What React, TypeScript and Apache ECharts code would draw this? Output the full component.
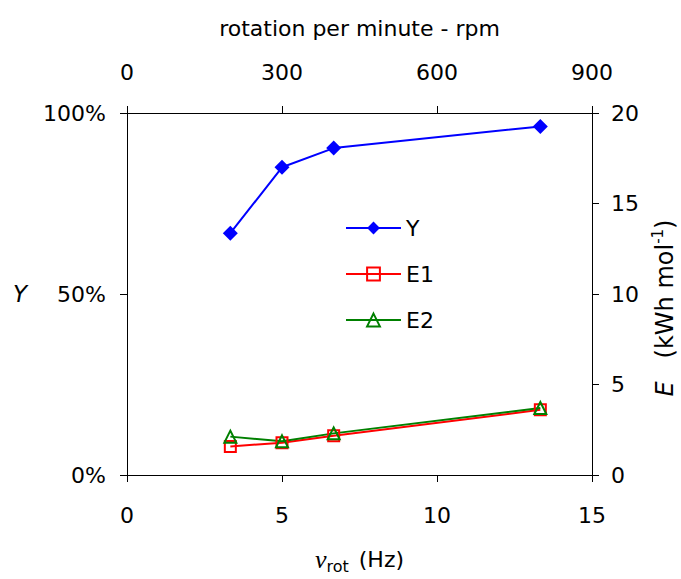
import React, { useEffect, useRef } from "react";
import * as echarts from "echarts";

const rpm = [200, 300, 400, 800];
const yieldY = [0.668, 0.85, 0.903, 0.963];
const energyE1 = [1.58, 1.78, 2.17, 3.6];
const energyE2 = [2.12, 1.86, 2.3, 3.7];
const hzTicks = { min: 0, max: 15, interval: 5 };
const rpmTicks = { min: 0, max: 900, interval: 300 };
const yTicks = { min: 0, max: 1, interval: 0.5 };
const eTicks = { min: 0, max: 20, interval: 5 };

const FONT = "DejaVu Sans, Liberation Sans, Arial, sans-serif";
const FS = 22;

export default function App() {
  const ref = useRef<HTMLDivElement>(null);
  useEffect(() => {
    if (!ref.current) return;
    const chart = echarts.init(ref.current, null, { renderer: "svg" });
    const axisCommon = {
      axisLine: { show: true, onZero: false, lineStyle: { color: "#000", width: 1 } },
      axisTick: { show: true, inside: false, length: 7, lineStyle: { color: "#000", width: 1 } },
      splitLine: { show: false },
    };
    const pair = (xs: number[], ys: number[]) => xs.map((x, i) => [x, ys[i]]);
    chart.setOption({
      animation: false,
      backgroundColor: "#fff",
      textStyle: { fontFamily: FONT },
      grid: { left: 127, top: 113, width: 465, height: 362, containLabel: false, outerBoundsMode: "none" },
      legend: {
        orient: "vertical",
        left: 340,
        top: 212,
        itemWidth: 55,
        itemHeight: 16,
        itemGap: 24,
        textStyle: { fontSize: FS, color: "#000", fontFamily: FONT },
        data: ["Y", "E1", "E2"],
      },
      xAxis: [
        {
          type: "value",
          position: "bottom",
          ...hzTicks,
          ...axisCommon,
          axisLabel: { fontSize: FS, color: "#000", margin: 29, fontFamily: FONT },
          name: "{nu|ν}{sub|rot} (Hz)",
          nameLocation: "middle",
          nameGap: 69,
          nameTextStyle: {
            fontSize: FS,
            color: "#000",
            fontFamily: FONT,
            rich: {
              nu: { fontSize: 26, fontStyle: "italic", fontFamily: "Liberation Serif, serif", color: "#000", verticalAlign: "middle", lineHeight: 30 },
              sub: { fontSize: 16, fontFamily: FONT, color: "#000", verticalAlign: "bottom", padding: [0, 3, 0, 0] },
            },
          },
        },
        {
          type: "value",
          position: "top",
          ...rpmTicks,
          ...axisCommon,
          axisLabel: { fontSize: FS, color: "#000", margin: 30, fontFamily: FONT },
          name: "rotation per minute - rpm",
          nameLocation: "middle",
          nameGap: 74,
          nameTextStyle: { fontSize: FS, color: "#000", fontFamily: FONT },
        },
      ],
      yAxis: [
        {
          type: "value",
          position: "left",
          ...yTicks,
          ...axisCommon,
          axisLabel: {
            fontSize: FS,
            color: "#000",
            margin: 21,
            fontFamily: FONT,
            formatter: (v: number) => Math.round(v * 100) + "%",
          },
          name: "Y",
          nameLocation: "middle",
          nameRotate: 0,
          nameGap: 100,
          nameTextStyle: { fontSize: 23, fontStyle: "italic", color: "#000", fontFamily: FONT },
        },
        {
          type: "value",
          position: "right",
          ...eTicks,
          ...axisCommon,
          axisLabel: { fontSize: FS, color: "#000", margin: 19, fontFamily: FONT },
          name: "{e|E}   (kWh mol{sup|-1})",
          nameLocation: "middle",
          nameGap: 58,
          nameTextStyle: {
            fontSize: 24,
            color: "#000",
            fontFamily: FONT,
            padding: [0, 28, 0, 0],
            rich: {
              e: { fontSize: 24, fontStyle: "italic", fontFamily: FONT, color: "#000", lineHeight: 30 },
              sup: { fontSize: 15, fontFamily: FONT, color: "#000", verticalAlign: "top" },
            },
          },
        },
      ],
      series: [
        {
          name: "Y",
          type: "line",
          xAxisIndex: 1,
          yAxisIndex: 0,
          data: pair(rpm, yieldY),
          symbol: "diamond",
          symbolSize: 15,
          lineStyle: { color: "#0000ff", width: 2 },
          itemStyle: { color: "#0000ff" },
        },
        {
          name: "E1",
          type: "line",
          xAxisIndex: 1,
          yAxisIndex: 1,
          data: pair(rpm, energyE1),
          symbol: "rect",
          symbolSize: 11,
          lineStyle: { color: "#ff0000", width: 2 },
          itemStyle: { color: "rgba(255,255,255,0)", borderColor: "#ff0000", borderWidth: 2 },
        },
        {
          name: "E2",
          type: "line",
          xAxisIndex: 1,
          yAxisIndex: 1,
          data: pair(rpm, energyE2),
          symbol: "triangle",
          symbolSize: 12,
          lineStyle: { color: "#008000", width: 2 },
          itemStyle: { color: "rgba(255,255,255,0)", borderColor: "#008000", borderWidth: 2 },
        },
      ],
    });
    return () => chart.dispose();
  }, []);
  return (
    <div
      ref={ref}
      style={{ position: "fixed", left: 0, top: 0, width: 681, height: 579, background: "#fff" }}
    />
  );
}
